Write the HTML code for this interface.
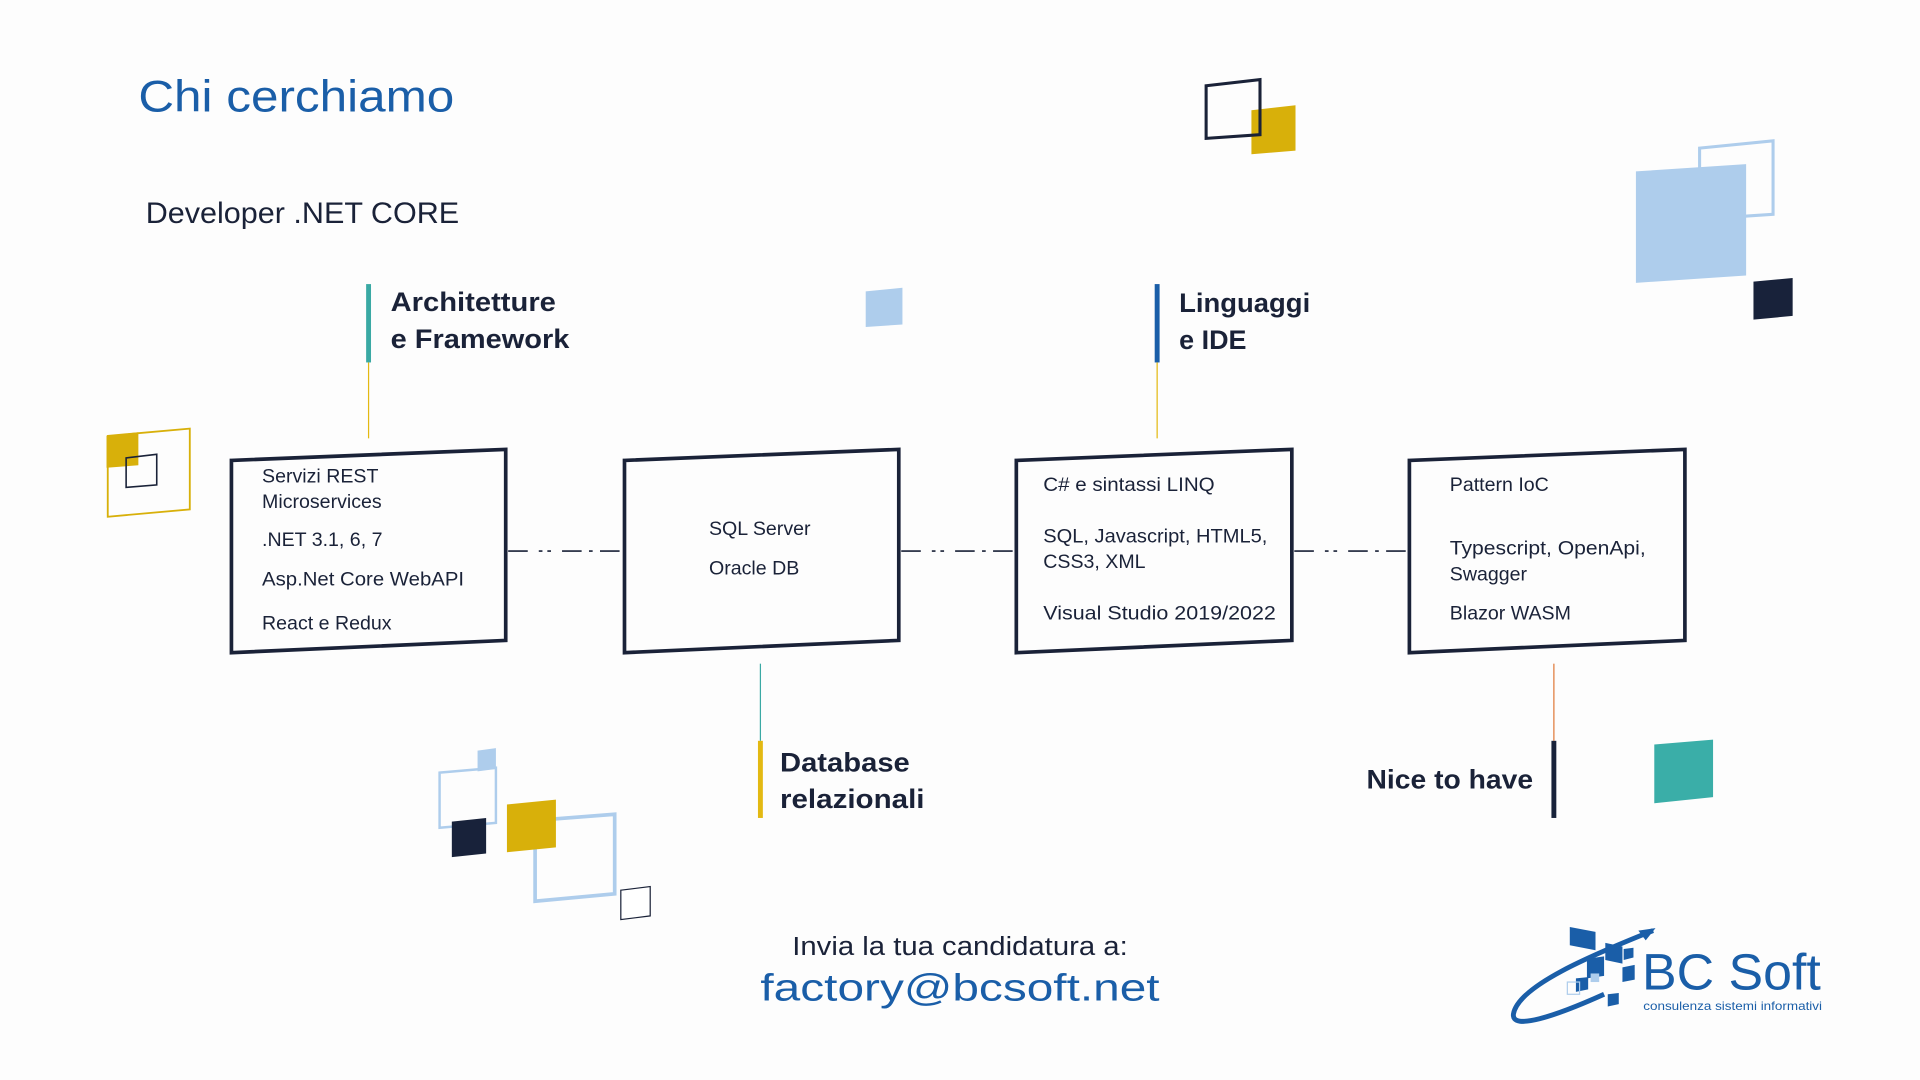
<!DOCTYPE html>
<html><head><meta charset="utf-8"><style>
html,body{margin:0;padding:0;background:#fdfdfd;}
svg{display:block;}
text{font-family:"Liberation Sans Narrow","Liberation Sans",sans-serif;fill:#1a2238;}
</style></head><body>
<svg width="1920" height="1080" viewBox="0 0 1568 882" preserveAspectRatio="none" xmlns="http://www.w3.org/2000/svg">
<rect width="1568" height="882" fill="#fdfdfd"/>
<!-- titles -->
<text x="113" y="91" font-size="36" style="fill:#1a5ea8" textLength="258" lengthAdjust="spacingAndGlyphs">Chi cerchiamo</text>
<text x="119" y="182" font-size="24" textLength="256" lengthAdjust="spacingAndGlyphs">Developer .NET CORE</text>

<!-- Architetture -->
<rect x="299" y="232" width="4" height="64" fill="#3aa9a4"/>
<line x1="301" y1="296" x2="301" y2="358" stroke="#e3b912" stroke-width="1"/>
<text x="319" y="254" font-size="22" font-weight="bold" textLength="135" lengthAdjust="spacingAndGlyphs">Architetture</text>
<text x="319" y="284" font-size="22" font-weight="bold" textLength="146" lengthAdjust="spacingAndGlyphs">e Framework</text>

<!-- Linguaggi -->
<rect x="943" y="232" width="4" height="64" fill="#1a5ea8"/>
<line x1="945" y1="296" x2="945" y2="358" stroke="#e3b912" stroke-width="1"/>
<text x="963" y="255" font-size="22" font-weight="bold" textLength="107" lengthAdjust="spacingAndGlyphs">Linguaggi</text>
<text x="963" y="285" font-size="22" font-weight="bold" textLength="55" lengthAdjust="spacingAndGlyphs">e IDE</text>

<!-- decorations top -->
<polygon points="707,238 737,235 737,265 707,267" fill="#aecdec"/>
<polygon points="1022,90 1058,86 1058,123 1022,126" fill="#d8b00a"/>
<polygon points="985,70 1029,65 1029,110 985,113" fill="none" stroke="#1a2238" stroke-width="2.5"/>
<polygon points="1388,121 1448,115 1448,175 1388,179" fill="none" stroke="#aecdec" stroke-width="2.5"/>
<polygon points="1336,140 1426,134 1426,225 1336,231" fill="#aecdec"/>
<polygon points="1432,230 1464,227 1464,258 1432,261" fill="#18223a"/>

<!-- left deco -->
<polygon points="87,356 113,353 113,380 87,382" fill="#d8b00a"/>
<polygon points="88,356 155,350 155,416 88,422" fill="none" stroke="#d8b00a" stroke-width="1.5"/>
<polygon points="103,374 128,371 128,396 103,398" fill="none" stroke="#1a2238" stroke-width="1.3"/>

<!-- boxes -->
<g fill="#fdfdfd" stroke="#1a2238" stroke-width="3">
<polygon points="189,376 413,367 413,523 189,533"/>
<polygon points="510,376 734,367 734,523 510,533"/>
<polygon points="830,376 1055,367 1055,523 830,533"/>
<polygon points="1151,376 1376,367 1376,523 1151,533"/>
</g>
<g stroke="#1a2238" stroke-width="1.3" stroke-dasharray="16,9,3,4,3,9,16,6,3,6">
<line x1="415" y1="450" x2="508" y2="450"/>
<line x1="736" y1="450" x2="828" y2="450"/>
<line x1="1057" y1="450" x2="1149" y2="450"/>
</g>

<g font-size="16">
<text x="214" y="394">Servizi REST</text>
<text x="214" y="415">Microservices</text>
<text x="214" y="446">.NET 3.1, 6, 7</text>
<text x="214" y="478" textLength="165" lengthAdjust="spacingAndGlyphs">Asp.Net Core WebAPI</text>
<text x="214" y="514">React e Redux</text>
<text x="579" y="437">SQL Server</text>
<text x="579" y="469">Oracle DB</text>
<text x="852" y="401" textLength="140" lengthAdjust="spacingAndGlyphs">C# e sintassi LINQ</text>
<text x="852" y="443" textLength="183" lengthAdjust="spacingAndGlyphs">SQL, Javascript, HTML5,</text>
<text x="852" y="464">CSS3, XML</text>
<text x="852" y="506" textLength="190" lengthAdjust="spacingAndGlyphs">Visual Studio 2019/2022</text>
<text x="1184" y="401">Pattern IoC</text>
<text x="1184" y="453" textLength="160" lengthAdjust="spacingAndGlyphs">Typescript, OpenApi,</text>
<text x="1184" y="474">Swagger</text>
<text x="1184" y="506">Blazor WASM</text>
</g>

<!-- Database -->
<line x1="621" y1="542" x2="621" y2="605" stroke="#3aa9a4" stroke-width="1"/>
<rect x="619" y="605" width="4" height="63" fill="#e3b912"/>
<text x="637" y="630" font-size="22" font-weight="bold" textLength="106" lengthAdjust="spacingAndGlyphs">Database</text>
<text x="637" y="660" font-size="22" font-weight="bold" textLength="118" lengthAdjust="spacingAndGlyphs">relazionali</text>

<!-- Nice to have -->
<line x1="1269" y1="542" x2="1269" y2="605" stroke="#e07a3a" stroke-width="1"/>
<rect x="1267" y="605" width="4" height="63" fill="#18223a"/>
<text x="1116" y="644" font-size="22" font-weight="bold" textLength="136" lengthAdjust="spacingAndGlyphs">Nice to have</text>
<polygon points="1351,608 1399,604 1399,651 1351,656" fill="#3aaea8"/>

<!-- bottom-left deco -->
<polygon points="390,613 405,611 405,628 390,630" fill="#aecdec"/>
<polygon points="359,631 405,627 405,672 359,676" fill="none" stroke="#aecdec" stroke-width="2"/>
<polygon points="437,670 502,665 502,730 437,736" fill="none" stroke="#aecdec" stroke-width="3"/>
<polygon points="369,671 397,668 397,697 369,700" fill="#18223a"/>
<polygon points="414,657 454,653 454,692 414,696" fill="#d8b00a"/>
<polygon points="507,727 531,724 531,748 507,751" fill="#fff" stroke="#1a2238" stroke-width="1"/>

<!-- contact -->
<text x="784" y="780" font-size="21" text-anchor="middle" textLength="274" lengthAdjust="spacingAndGlyphs">Invia la tua candidatura a:</text>
<text x="784" y="817" font-size="31" text-anchor="middle" style="fill:#1a5ea8" textLength="326" lengthAdjust="spacingAndGlyphs">factory@bcsoft.net</text>

<!-- logo -->
<g>
<path d="M1350,760 C1300,780 1240,805 1236,828 C1234,842 1270,830 1310,812" fill="none" stroke="#1a5ea8" stroke-width="4"/>
<path d="M1300,780 L1345,762" stroke="#1a5ea8" stroke-width="1.5"/>
<polygon points="1352,758 1338,760 1344,768" fill="#1a5ea8"/>
<polygon points="1282,757 1303,761 1303,776 1282,772" fill="#1a5ea8"/>
<polygon points="1311,770 1325,773 1325,787 1311,784" fill="#1a5ea8"/>
<polygon points="1296,783 1310,781 1310,797 1296,799" fill="#1a5ea8"/>
<polygon points="1325,790 1335,788 1335,800 1325,802" fill="#1a5ea8"/>
<polygon points="1287,799 1297,798 1297,808 1287,810" fill="#1a5ea8"/>
<polygon points="1313,812 1322,811 1322,820 1313,822" fill="#1a5ea8"/>
<polygon points="1326,775 1334,774 1334,782 1326,784" fill="#1a5ea8"/>
<rect x="1280" y="802" width="10" height="10" fill="none" stroke="#aecdec" stroke-width="1"/>
<rect x="1299" y="795" width="7" height="7" fill="#aecdec"/>
<text x="1341" y="808" font-size="42" style="fill:#1a5ea8" textLength="146" lengthAdjust="spacingAndGlyphs">BC Soft</text>
<text x="1342" y="825" font-size="10" style="fill:#1a5ea8" textLength="146" lengthAdjust="spacingAndGlyphs">consulenza sistemi informativi</text>
</g>
</svg>
</body></html>
